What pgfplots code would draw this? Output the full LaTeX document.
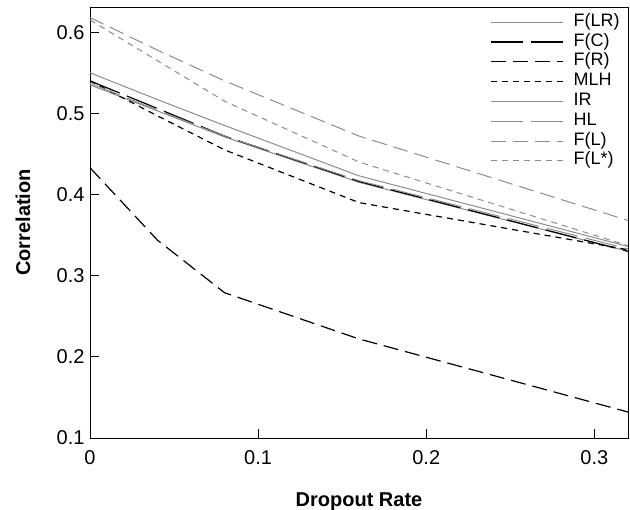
\documentclass[border=0pt]{standalone}
\usepackage{fontspec}
\setmainfont{Liberation Sans}
\usepackage{pgfplots}
\pgfplotsset{compat=1.18}
\definecolor{lgray}{gray}{0.55}

\begin{document}
\begin{tikzpicture}
\begin{axis}[
  at={(0pt,0pt)}, anchor=south west,
  scale only axis, width=538pt, height=431pt,
  xmin=0, xmax=0.32, ymin=0.1, ymax=0.631,
  xtick={0,0.1,0.2,0.3}, ytick={0.1,0.2,0.3,0.4,0.5,0.6},
  xticklabels={0,0.1,0.2,0.3},
  yticklabels={0.1,0.2,0.3,0.4,0.5,0.6},
  xtick pos=bottom, ytick pos=left,
  tick align=inside, major tick length=9pt,
  tick style={black, line width=0.8pt},
  axis line style={line width=0.9pt},
  /pgf/number format/assume math mode=true,
  tick label style={font=\fontsize{20}{22}\selectfont},
  xticklabel style={yshift=-9pt},
  yticklabel style={xshift=-2pt},
  xlabel={\bfseries Dropout Rate}, ylabel={\bfseries Correlation},
  label style={font=\fontsize{20}{22}\selectfont},
  xlabel style={at={(axis description cs:0.5,-0.147)}, anchor=center},
  ylabel style={at={(axis description cs:-0.1245,0.5)}, anchor=center},
  legend cell align=left,
  legend style={draw=none, fill=none, inner sep=0pt,
    at={(axis description cs:0.985,0.988)}, anchor=north east,
    font=\fontsize{18}{20}\selectfont, row sep=0pt,
    nodes={inner sep=0pt, text height=14pt, text depth=5.8pt},
    /tikz/every odd column/.append style={column sep=10pt}},
  legend image code/.code={\draw[#1] (0pt,0pt) -- (72pt,0pt);},
]
% F(LR)
\addplot[lgray, line width=1pt] coordinates
  {(0,0.535) (0.04,0.503) (0.08,0.471) (0.16,0.415) (0.32,0.330)};
\addlegendentry{F(LR)}
% F(C)
\addplot[black, line width=1.2pt, dash pattern=on 32pt off 8pt] coordinates
  {(0,0.540) (0.04,0.506) (0.08,0.472) (0.16,0.416) (0.32,0.330)};
\addlegendentry{F(C)}
% F(R)
\addplot[black, line width=1.2pt, dash pattern=on 15pt off 7pt] coordinates
  {(0,0.433) (0.04,0.344) (0.08,0.279) (0.16,0.222) (0.32,0.132)};
\addlegendentry{F(R)}
% MLH
\addplot[black, line width=1.2pt, dash pattern=on 6pt off 5pt] coordinates
  {(0,0.540) (0.04,0.497) (0.08,0.455) (0.16,0.390) (0.32,0.332)};
\addlegendentry{MLH}
% IR
\addplot[lgray, line width=1pt] coordinates
  {(0,0.550) (0.04,0.517) (0.08,0.485) (0.16,0.423) (0.32,0.336)};
\addlegendentry{IR}
% HL
\addplot[lgray, line width=1pt, dash pattern=on 32pt off 8pt] coordinates
  {(0,0.537) (0.04,0.504) (0.08,0.472) (0.16,0.417) (0.32,0.333)};
\addlegendentry{HL}
% F(L)
\addplot[lgray, line width=1pt, dash pattern=on 15pt off 7pt] coordinates
  {(0,0.618) (0.04,0.578) (0.08,0.540) (0.16,0.472) (0.32,0.368)};
\addlegendentry{F(L)}
% F(L*)
\addplot[lgray, line width=1pt, dash pattern=on 6pt off 5pt] coordinates
  {(0,0.615) (0.04,0.565) (0.08,0.515) (0.16,0.440) (0.32,0.337)};
\addlegendentry{F(L*)}
\end{axis}
\pgfresetboundingbox
\path (-90pt,-72pt) rectangle (540pt,438pt);
\end{tikzpicture}
\end{document}
